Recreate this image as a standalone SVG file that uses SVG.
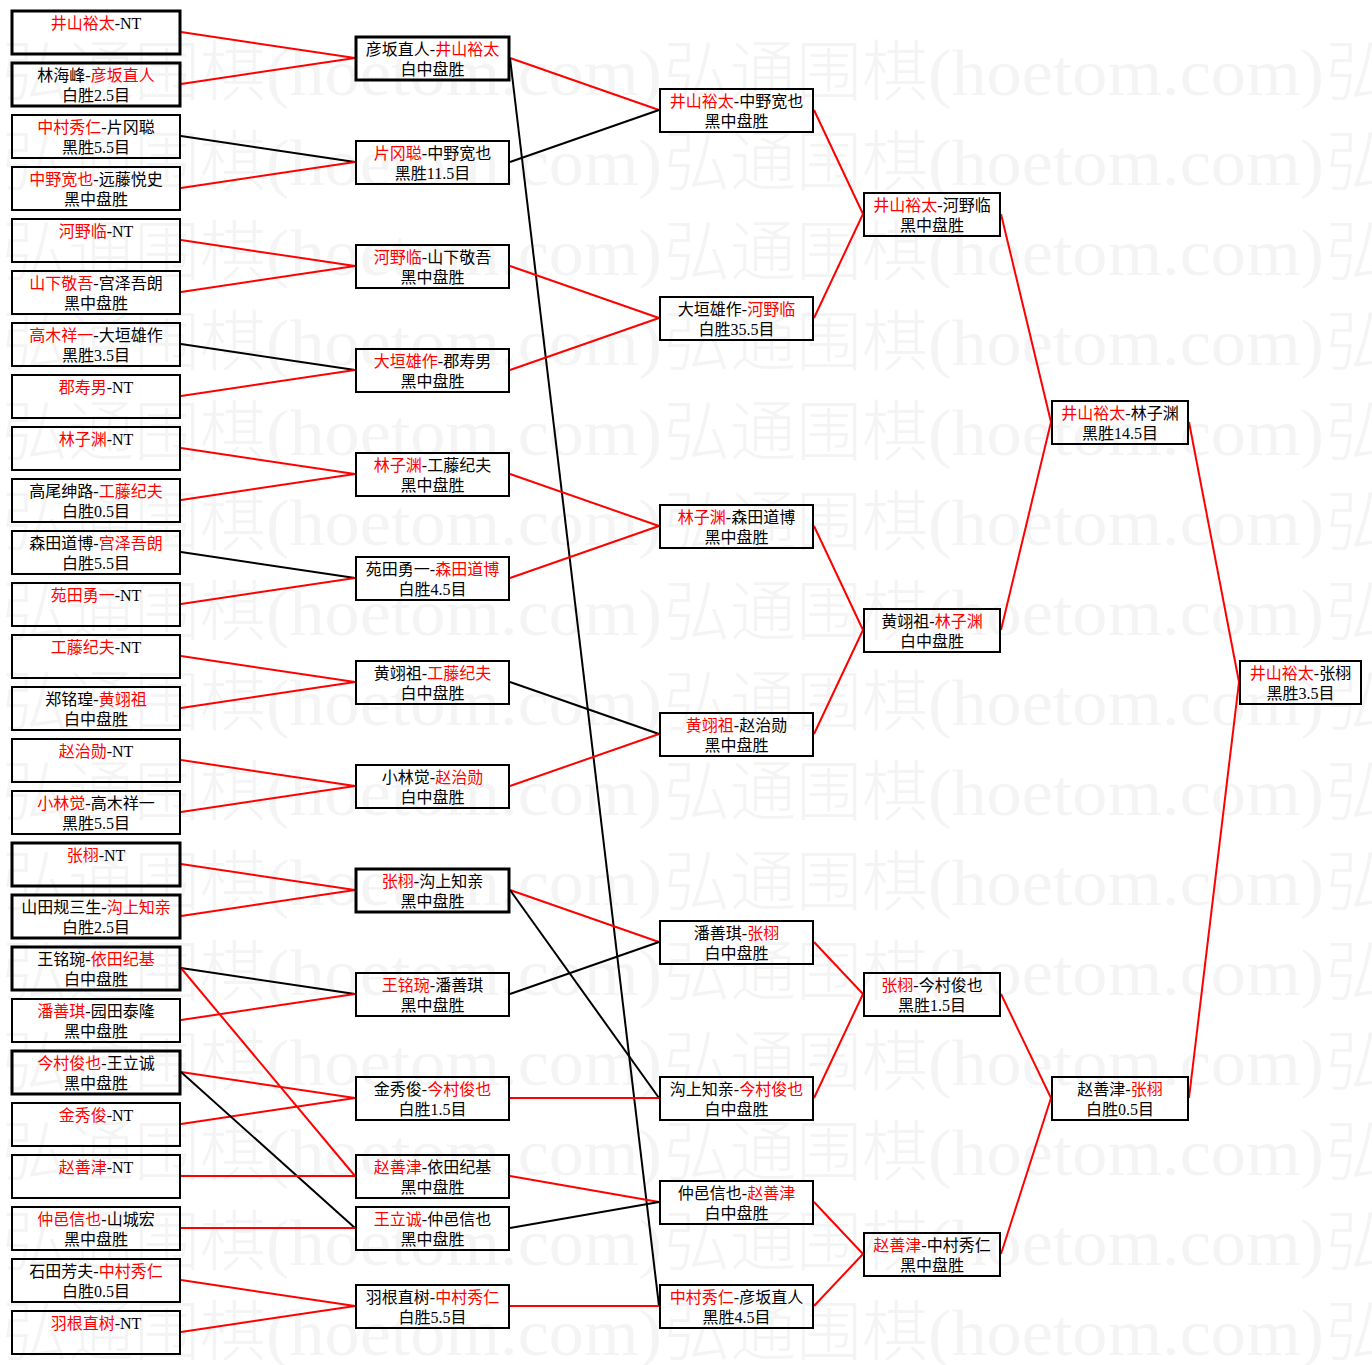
<svg xmlns="http://www.w3.org/2000/svg" width="1372" height="1365" viewBox="0 0 1372 1365">
<style>
.bg{fill:#fff}
.wm{fill:#f4f4f4}
.wc{font-family:"Noto Sans CJK SC",sans-serif;font-size:66px;font-weight:300;fill:#f4f4f4}
.wl{font-family:"Liberation Serif",serif;font-size:66px;fill:#f4f4f4}
.b{fill:none;stroke:#000;stroke-width:2}
.bb{stroke-width:3}
.t{font-family:"Liberation Serif","Noto Sans CJK SC",serif;font-size:16px;text-anchor:middle;fill:#000}
.r{fill:#f00}
.lr{stroke:#f00;stroke-width:2;fill:none}
.lk{stroke:#000;stroke-width:2;fill:none}
</style>
<defs>
<g id="wmu"><text class="wc" x="0" y="0">弘通围棋</text><text class="wl" x="264" y="0" textLength="396" lengthAdjust="spacingAndGlyphs">(hoetom.com)</text></g>
</defs>
<rect class="bg" x="0" y="0" width="1372" height="1365"/>
<g id="watermark" class="wm">
<use href="#wmu" x="2" y="95"/><use href="#wmu" x="664" y="95"/><use href="#wmu" x="1326" y="95"/>
<use href="#wmu" x="2" y="185"/><use href="#wmu" x="664" y="185"/><use href="#wmu" x="1326" y="185"/>
<use href="#wmu" x="2" y="275"/><use href="#wmu" x="664" y="275"/><use href="#wmu" x="1326" y="275"/>
<use href="#wmu" x="2" y="365"/><use href="#wmu" x="664" y="365"/><use href="#wmu" x="1326" y="365"/>
<use href="#wmu" x="2" y="455"/><use href="#wmu" x="664" y="455"/><use href="#wmu" x="1326" y="455"/>
<use href="#wmu" x="2" y="545"/><use href="#wmu" x="664" y="545"/><use href="#wmu" x="1326" y="545"/>
<use href="#wmu" x="2" y="635"/><use href="#wmu" x="664" y="635"/><use href="#wmu" x="1326" y="635"/>
<use href="#wmu" x="2" y="725"/><use href="#wmu" x="664" y="725"/><use href="#wmu" x="1326" y="725"/>
<use href="#wmu" x="2" y="815"/><use href="#wmu" x="664" y="815"/><use href="#wmu" x="1326" y="815"/>
<use href="#wmu" x="2" y="905"/><use href="#wmu" x="664" y="905"/><use href="#wmu" x="1326" y="905"/>
<use href="#wmu" x="2" y="995"/><use href="#wmu" x="664" y="995"/><use href="#wmu" x="1326" y="995"/>
<use href="#wmu" x="2" y="1085"/><use href="#wmu" x="664" y="1085"/><use href="#wmu" x="1326" y="1085"/>
<use href="#wmu" x="2" y="1175"/><use href="#wmu" x="664" y="1175"/><use href="#wmu" x="1326" y="1175"/>
<use href="#wmu" x="2" y="1265"/><use href="#wmu" x="664" y="1265"/><use href="#wmu" x="1326" y="1265"/>
<use href="#wmu" x="2" y="1355"/><use href="#wmu" x="664" y="1355"/><use href="#wmu" x="1326" y="1355"/>
</g>
<g id="connectors">
<line class="lr" x1="181" y1="32" x2="355" y2="58"/>
<line class="lr" x1="181" y1="84" x2="355" y2="58"/>
<line class="lk" x1="181" y1="136" x2="355" y2="162"/>
<line class="lr" x1="181" y1="188" x2="355" y2="162"/>
<line class="lr" x1="181" y1="240" x2="355" y2="266"/>
<line class="lr" x1="181" y1="292" x2="355" y2="266"/>
<line class="lk" x1="181" y1="344" x2="355" y2="370"/>
<line class="lr" x1="181" y1="396" x2="355" y2="370"/>
<line class="lr" x1="181" y1="448" x2="355" y2="474"/>
<line class="lr" x1="181" y1="500" x2="355" y2="474"/>
<line class="lk" x1="181" y1="552" x2="355" y2="578"/>
<line class="lr" x1="181" y1="604" x2="355" y2="578"/>
<line class="lr" x1="181" y1="656" x2="355" y2="682"/>
<line class="lr" x1="181" y1="708" x2="355" y2="682"/>
<line class="lr" x1="181" y1="760" x2="355" y2="786"/>
<line class="lr" x1="181" y1="812" x2="355" y2="786"/>
<line class="lr" x1="181" y1="864" x2="355" y2="890"/>
<line class="lr" x1="181" y1="916" x2="355" y2="890"/>
<line class="lk" x1="181" y1="968" x2="355" y2="994"/>
<line class="lr" x1="181" y1="1020" x2="355" y2="994"/>
<line class="lr" x1="181" y1="968" x2="355" y2="1176"/>
<line class="lr" x1="181" y1="1072" x2="355" y2="1098"/>
<line class="lr" x1="181" y1="1124" x2="355" y2="1098"/>
<line class="lk" x1="181" y1="1072" x2="355" y2="1228"/>
<line class="lr" x1="181" y1="1176" x2="355" y2="1176"/>
<line class="lr" x1="181" y1="1228" x2="355" y2="1228"/>
<line class="lr" x1="181" y1="1280" x2="355" y2="1306"/>
<line class="lr" x1="181" y1="1332" x2="355" y2="1306"/>
<line class="lr" x1="510" y1="58" x2="659" y2="110"/>
<line class="lk" x1="510" y1="58" x2="659" y2="1306"/>
<line class="lk" x1="510" y1="162" x2="659" y2="110"/>
<line class="lr" x1="510" y1="266" x2="659" y2="318"/>
<line class="lr" x1="510" y1="370" x2="659" y2="318"/>
<line class="lr" x1="510" y1="474" x2="659" y2="526"/>
<line class="lr" x1="510" y1="578" x2="659" y2="526"/>
<line class="lk" x1="510" y1="682" x2="659" y2="734"/>
<line class="lr" x1="510" y1="786" x2="659" y2="734"/>
<line class="lr" x1="510" y1="890" x2="659" y2="942"/>
<line class="lk" x1="510" y1="890" x2="659" y2="1098"/>
<line class="lk" x1="510" y1="994" x2="659" y2="942"/>
<line class="lr" x1="510" y1="1098" x2="659" y2="1098"/>
<line class="lr" x1="510" y1="1176" x2="659" y2="1202"/>
<line class="lk" x1="510" y1="1228" x2="659" y2="1202"/>
<line class="lr" x1="510" y1="1306" x2="659" y2="1306"/>
<line class="lr" x1="814" y1="110" x2="863" y2="214"/>
<line class="lr" x1="814" y1="318" x2="863" y2="214"/>
<line class="lr" x1="814" y1="526" x2="863" y2="630"/>
<line class="lr" x1="814" y1="734" x2="863" y2="630"/>
<line class="lr" x1="814" y1="942" x2="863" y2="994"/>
<line class="lr" x1="814" y1="1098" x2="863" y2="994"/>
<line class="lr" x1="814" y1="1202" x2="863" y2="1254"/>
<line class="lr" x1="814" y1="1306" x2="863" y2="1254"/>
<line class="lr" x1="1001" y1="214" x2="1051" y2="422"/>
<line class="lr" x1="1001" y1="630" x2="1051" y2="422"/>
<line class="lr" x1="1001" y1="994" x2="1051" y2="1098"/>
<line class="lr" x1="1001" y1="1254" x2="1051" y2="1098"/>
<line class="lr" x1="1189" y1="422" x2="1239" y2="682"/>
<line class="lr" x1="1189" y1="1098" x2="1239" y2="682"/>
</g>
<g id="n-l0"><rect class="b bb" x="12" y="11" width="168" height="43"/><text class="t" x="96" y="29"><tspan class="r">井山裕太</tspan>-NT</text></g>
<g id="n-l1"><rect class="b bb" x="12" y="63" width="168" height="43"/><text class="t" x="96" y="81">林海峰-<tspan class="r">彦坂直人</tspan></text><text class="t" x="96" y="101">白胜2.5目</text></g>
<g id="n-l2"><rect class="b" x="12" y="115" width="168" height="43"/><text class="t" x="96" y="133"><tspan class="r">中村秀仁</tspan>-片冈聪</text><text class="t" x="96" y="153">黑胜5.5目</text></g>
<g id="n-l3"><rect class="b" x="12" y="167" width="168" height="43"/><text class="t" x="96" y="185"><tspan class="r">中野宽也</tspan>-远藤悦史</text><text class="t" x="96" y="205">黑中盘胜</text></g>
<g id="n-l4"><rect class="b" x="12" y="219" width="168" height="43"/><text class="t" x="96" y="237"><tspan class="r">河野临</tspan>-NT</text></g>
<g id="n-l5"><rect class="b" x="12" y="271" width="168" height="43"/><text class="t" x="96" y="289"><tspan class="r">山下敬吾</tspan>-宫泽吾朗</text><text class="t" x="96" y="309">黑中盘胜</text></g>
<g id="n-l6"><rect class="b" x="12" y="323" width="168" height="43"/><text class="t" x="96" y="341"><tspan class="r">高木祥一</tspan>-大垣雄作</text><text class="t" x="96" y="361">黑胜3.5目</text></g>
<g id="n-l7"><rect class="b" x="12" y="375" width="168" height="43"/><text class="t" x="96" y="393"><tspan class="r">郡寿男</tspan>-NT</text></g>
<g id="n-l8"><rect class="b" x="12" y="427" width="168" height="43"/><text class="t" x="96" y="445"><tspan class="r">林子渊</tspan>-NT</text></g>
<g id="n-l9"><rect class="b" x="12" y="479" width="168" height="43"/><text class="t" x="96" y="497">高尾绅路-<tspan class="r">工藤纪夫</tspan></text><text class="t" x="96" y="517">白胜0.5目</text></g>
<g id="n-l10"><rect class="b" x="12" y="531" width="168" height="43"/><text class="t" x="96" y="549">森田道博-<tspan class="r">宫泽吾朗</tspan></text><text class="t" x="96" y="569">白胜5.5目</text></g>
<g id="n-l11"><rect class="b" x="12" y="583" width="168" height="43"/><text class="t" x="96" y="601"><tspan class="r">苑田勇一</tspan>-NT</text></g>
<g id="n-l12"><rect class="b" x="12" y="635" width="168" height="43"/><text class="t" x="96" y="653"><tspan class="r">工藤纪夫</tspan>-NT</text></g>
<g id="n-l13"><rect class="b" x="12" y="687" width="168" height="43"/><text class="t" x="96" y="705">郑铭瑝-<tspan class="r">黄翊祖</tspan></text><text class="t" x="96" y="725">白中盘胜</text></g>
<g id="n-l14"><rect class="b" x="12" y="739" width="168" height="43"/><text class="t" x="96" y="757"><tspan class="r">赵治勋</tspan>-NT</text></g>
<g id="n-l15"><rect class="b" x="12" y="791" width="168" height="43"/><text class="t" x="96" y="809"><tspan class="r">小林觉</tspan>-高木祥一</text><text class="t" x="96" y="829">黑胜5.5目</text></g>
<g id="n-l16"><rect class="b bb" x="12" y="843" width="168" height="43"/><text class="t" x="96" y="861"><tspan class="r">张栩</tspan>-NT</text></g>
<g id="n-l17"><rect class="b bb" x="12" y="895" width="168" height="43"/><text class="t" x="96" y="913">山田规三生-<tspan class="r">沟上知亲</tspan></text><text class="t" x="96" y="933">白胜2.5目</text></g>
<g id="n-l18"><rect class="b bb" x="12" y="947" width="168" height="43"/><text class="t" x="96" y="965">王铭琬-<tspan class="r">依田纪基</tspan></text><text class="t" x="96" y="985">白中盘胜</text></g>
<g id="n-l19"><rect class="b" x="12" y="999" width="168" height="43"/><text class="t" x="96" y="1017"><tspan class="r">潘善琪</tspan>-园田泰隆</text><text class="t" x="96" y="1037">黑中盘胜</text></g>
<g id="n-l20"><rect class="b bb" x="12" y="1051" width="168" height="43"/><text class="t" x="96" y="1069"><tspan class="r">今村俊也</tspan>-王立诚</text><text class="t" x="96" y="1089">黑中盘胜</text></g>
<g id="n-l21"><rect class="b" x="12" y="1103" width="168" height="43"/><text class="t" x="96" y="1121"><tspan class="r">金秀俊</tspan>-NT</text></g>
<g id="n-l22"><rect class="b" x="12" y="1155" width="168" height="43"/><text class="t" x="96" y="1173"><tspan class="r">赵善津</tspan>-NT</text></g>
<g id="n-l23"><rect class="b" x="12" y="1207" width="168" height="43"/><text class="t" x="96" y="1225"><tspan class="r">仲邑信也</tspan>-山城宏</text><text class="t" x="96" y="1245">黑中盘胜</text></g>
<g id="n-l24"><rect class="b" x="12" y="1259" width="168" height="43"/><text class="t" x="96" y="1277">石田芳夫-<tspan class="r">中村秀仁</tspan></text><text class="t" x="96" y="1297">白胜0.5目</text></g>
<g id="n-l25"><rect class="b" x="12" y="1311" width="168" height="43"/><text class="t" x="96" y="1329"><tspan class="r">羽根直树</tspan>-NT</text></g>
<g id="n-r2-0"><rect class="b bb" x="356" y="37" width="153" height="43"/><text class="t" x="432.5" y="55">彦坂直人-<tspan class="r">井山裕太</tspan></text><text class="t" x="432.5" y="75">白中盘胜</text></g>
<g id="n-r2-1"><rect class="b" x="356" y="141" width="153" height="43"/><text class="t" x="432.5" y="159"><tspan class="r">片冈聪</tspan>-中野宽也</text><text class="t" x="432.5" y="179">黑胜11.5目</text></g>
<g id="n-r2-2"><rect class="b" x="356" y="245" width="153" height="43"/><text class="t" x="432.5" y="263"><tspan class="r">河野临</tspan>-山下敬吾</text><text class="t" x="432.5" y="283">黑中盘胜</text></g>
<g id="n-r2-3"><rect class="b" x="356" y="349" width="153" height="43"/><text class="t" x="432.5" y="367"><tspan class="r">大垣雄作</tspan>-郡寿男</text><text class="t" x="432.5" y="387">黑中盘胜</text></g>
<g id="n-r2-4"><rect class="b" x="356" y="453" width="153" height="43"/><text class="t" x="432.5" y="471"><tspan class="r">林子渊</tspan>-工藤纪夫</text><text class="t" x="432.5" y="491">黑中盘胜</text></g>
<g id="n-r2-5"><rect class="b" x="356" y="557" width="153" height="43"/><text class="t" x="432.5" y="575">苑田勇一-<tspan class="r">森田道博</tspan></text><text class="t" x="432.5" y="595">白胜4.5目</text></g>
<g id="n-r2-6"><rect class="b" x="356" y="661" width="153" height="43"/><text class="t" x="432.5" y="679">黄翊祖-<tspan class="r">工藤纪夫</tspan></text><text class="t" x="432.5" y="699">白中盘胜</text></g>
<g id="n-r2-7"><rect class="b" x="356" y="765" width="153" height="43"/><text class="t" x="432.5" y="783">小林觉-<tspan class="r">赵治勋</tspan></text><text class="t" x="432.5" y="803">白中盘胜</text></g>
<g id="n-r2-8"><rect class="b bb" x="356" y="869" width="153" height="43"/><text class="t" x="432.5" y="887"><tspan class="r">张栩</tspan>-沟上知亲</text><text class="t" x="432.5" y="907">黑中盘胜</text></g>
<g id="n-r2-9"><rect class="b" x="356" y="973" width="153" height="43"/><text class="t" x="432.5" y="991"><tspan class="r">王铭琬</tspan>-潘善琪</text><text class="t" x="432.5" y="1011">黑中盘胜</text></g>
<g id="n-r2-10"><rect class="b" x="356" y="1077" width="153" height="43"/><text class="t" x="432.5" y="1095">金秀俊-<tspan class="r">今村俊也</tspan></text><text class="t" x="432.5" y="1115">白胜1.5目</text></g>
<g id="n-r2-11"><rect class="b" x="356" y="1155" width="153" height="43"/><text class="t" x="432.5" y="1173"><tspan class="r">赵善津</tspan>-依田纪基</text><text class="t" x="432.5" y="1193">黑中盘胜</text></g>
<g id="n-r2-12"><rect class="b" x="356" y="1207" width="153" height="43"/><text class="t" x="432.5" y="1225"><tspan class="r">王立诚</tspan>-仲邑信也</text><text class="t" x="432.5" y="1245">黑中盘胜</text></g>
<g id="n-r2-13"><rect class="b" x="356" y="1285" width="153" height="43"/><text class="t" x="432.5" y="1303">羽根直树-<tspan class="r">中村秀仁</tspan></text><text class="t" x="432.5" y="1323">白胜5.5目</text></g>
<g id="n-r3-0"><rect class="b" x="660" y="89" width="153" height="43"/><text class="t" x="736.5" y="107"><tspan class="r">井山裕太</tspan>-中野宽也</text><text class="t" x="736.5" y="127">黑中盘胜</text></g>
<g id="n-r3-1"><rect class="b" x="660" y="297" width="153" height="43"/><text class="t" x="736.5" y="315">大垣雄作-<tspan class="r">河野临</tspan></text><text class="t" x="736.5" y="335">白胜35.5目</text></g>
<g id="n-r3-2"><rect class="b" x="660" y="505" width="153" height="43"/><text class="t" x="736.5" y="523"><tspan class="r">林子渊</tspan>-森田道博</text><text class="t" x="736.5" y="543">黑中盘胜</text></g>
<g id="n-r3-3"><rect class="b" x="660" y="713" width="153" height="43"/><text class="t" x="736.5" y="731"><tspan class="r">黄翊祖</tspan>-赵治勋</text><text class="t" x="736.5" y="751">黑中盘胜</text></g>
<g id="n-r3-4"><rect class="b" x="660" y="921" width="153" height="43"/><text class="t" x="736.5" y="939">潘善琪-<tspan class="r">张栩</tspan></text><text class="t" x="736.5" y="959">白中盘胜</text></g>
<g id="n-r3-5"><rect class="b" x="660" y="1077" width="153" height="43"/><text class="t" x="736.5" y="1095">沟上知亲-<tspan class="r">今村俊也</tspan></text><text class="t" x="736.5" y="1115">白中盘胜</text></g>
<g id="n-r3-6"><rect class="b" x="660" y="1181" width="153" height="43"/><text class="t" x="736.5" y="1199">仲邑信也-<tspan class="r">赵善津</tspan></text><text class="t" x="736.5" y="1219">白中盘胜</text></g>
<g id="n-r3-7"><rect class="b" x="660" y="1285" width="153" height="43"/><text class="t" x="736.5" y="1303"><tspan class="r">中村秀仁</tspan>-彦坂直人</text><text class="t" x="736.5" y="1323">黑胜4.5目</text></g>
<g id="n-r4-0"><rect class="b" x="864" y="193" width="136" height="43"/><text class="t" x="932" y="211"><tspan class="r">井山裕太</tspan>-河野临</text><text class="t" x="932" y="231">黑中盘胜</text></g>
<g id="n-r4-1"><rect class="b" x="864" y="609" width="136" height="43"/><text class="t" x="932" y="627">黄翊祖-<tspan class="r">林子渊</tspan></text><text class="t" x="932" y="647">白中盘胜</text></g>
<g id="n-r4-2"><rect class="b" x="864" y="973" width="136" height="43"/><text class="t" x="932" y="991"><tspan class="r">张栩</tspan>-今村俊也</text><text class="t" x="932" y="1011">黑胜1.5目</text></g>
<g id="n-r4-3"><rect class="b" x="864" y="1233" width="136" height="43"/><text class="t" x="932" y="1251"><tspan class="r">赵善津</tspan>-中村秀仁</text><text class="t" x="932" y="1271">黑中盘胜</text></g>
<g id="n-r5-0"><rect class="b" x="1052" y="401" width="136" height="43"/><text class="t" x="1120" y="419"><tspan class="r">井山裕太</tspan>-林子渊</text><text class="t" x="1120" y="439">黑胜14.5目</text></g>
<g id="n-r5-1"><rect class="b" x="1052" y="1077" width="136" height="43"/><text class="t" x="1120" y="1095">赵善津-<tspan class="r">张栩</tspan></text><text class="t" x="1120" y="1115">白胜0.5目</text></g>
<g id="n-r6-0"><rect class="b" x="1240" y="661" width="121" height="43"/><text class="t" x="1300.5" y="679"><tspan class="r">井山裕太</tspan>-张栩</text><text class="t" x="1300.5" y="699">黑胜3.5目</text></g>
</svg>
